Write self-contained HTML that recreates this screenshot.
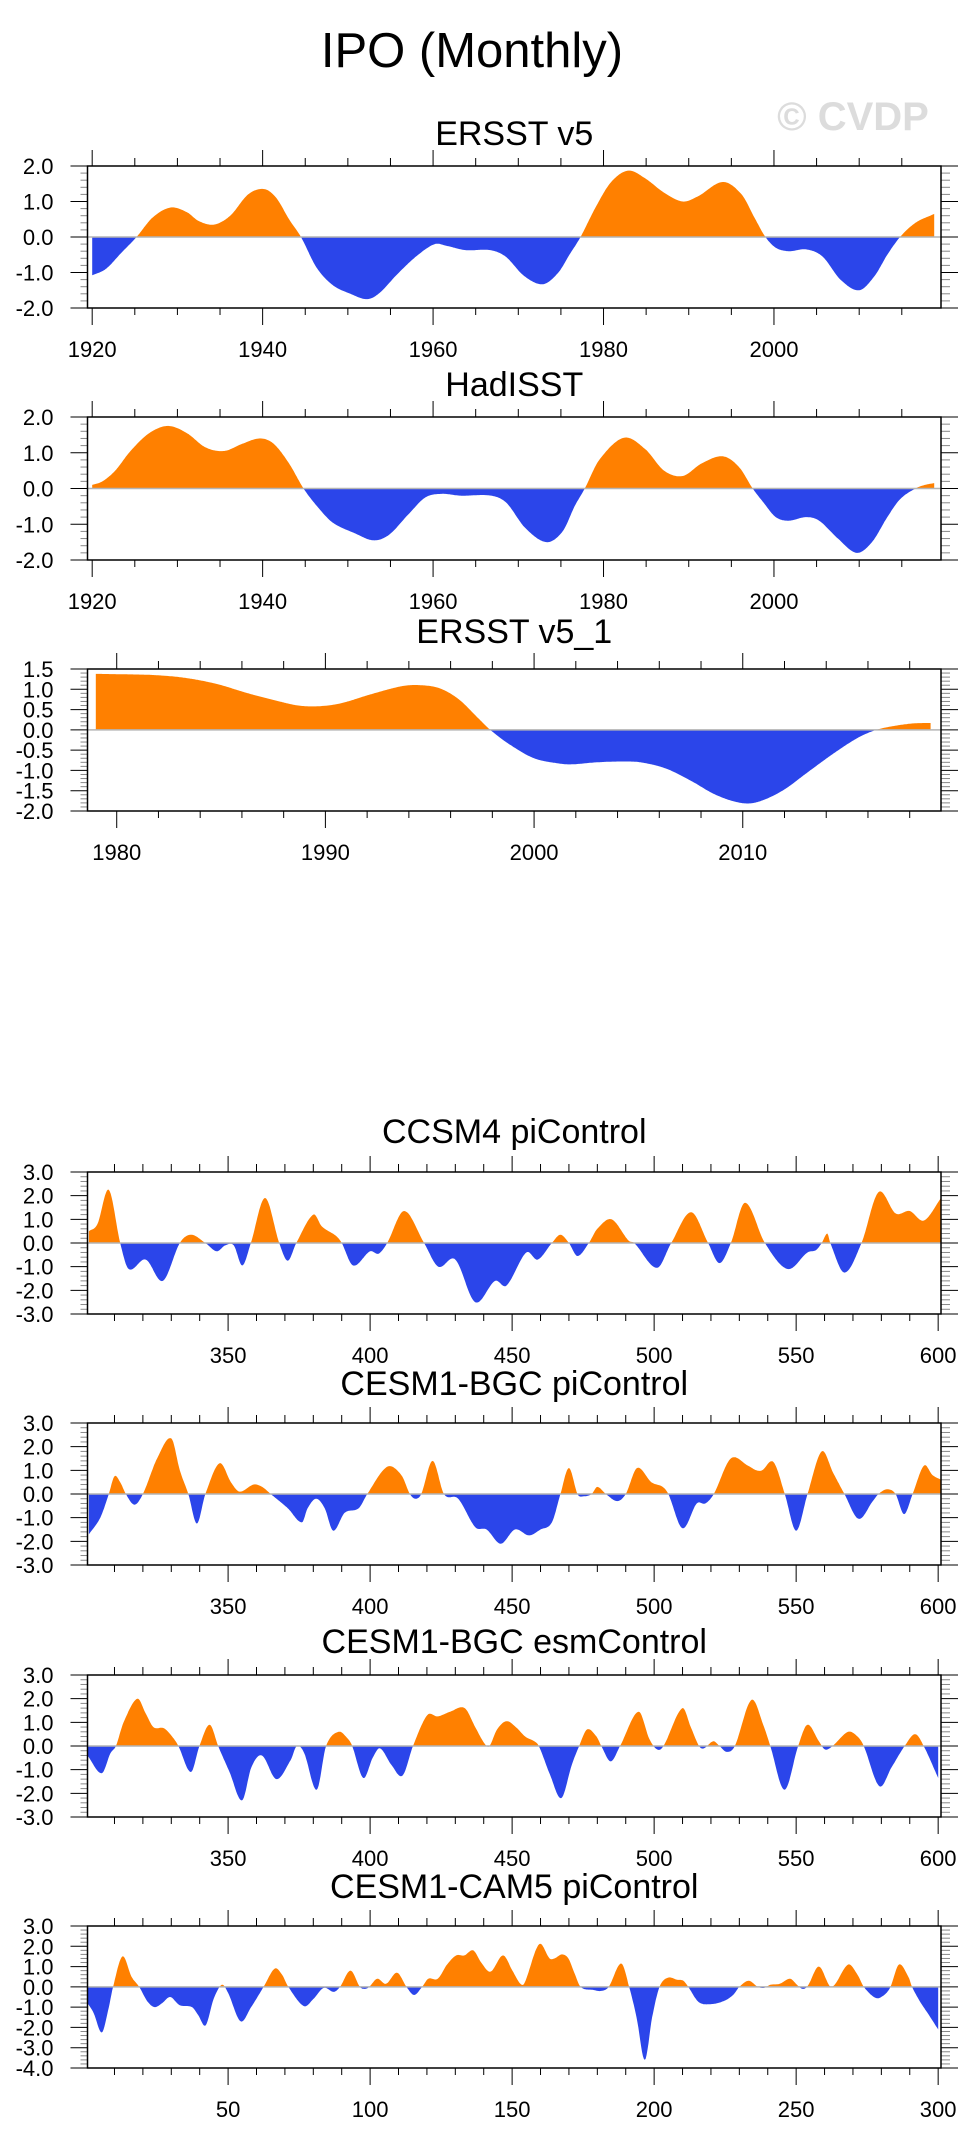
<!DOCTYPE html>
<html><head><meta charset="utf-8">
<style>
html,body{margin:0;padding:0;background:#fff;}
svg{display:block;font-family:"Liberation Sans",Arial,sans-serif;}
</style></head>
<body>
<svg id="chart" width="974" height="2150" viewBox="0 0 974 2150" xmlns="http://www.w3.org/2000/svg">
<text x="472" y="67" font-size="49" text-anchor="middle" fill="#000">IPO (Monthly)</text>
<text x="853" y="130" font-size="40" font-weight="bold" text-anchor="middle" fill="#dcdcdc">© CVDP</text>
</svg>
<script>
// ---- data ----
const ersstYears=[1920,1921.6,1923.4,1925.2,1927.1,1929.2,1931.1,1932.5,1934.3,1936.2,1938.3,1940.2,1941.6,1943.1,1944.5,1946.3,1948.2,1950.3,1952.2,1953.6,1955.8,1958,1960.2,1961.6,1963.8,1966.7,1968.5,1970.7,1972.9,1974.7,1976,1977.3,1979.1,1980.9,1982.9,1984.9,1987.1,1989.3,1991.1,1994,1996.2,1997.7,1999,2000.2,2001.7,2003.8,2005.7,2007.8,2010,2011.8,2013.3,2014.8,2016.6,2018.8];
const ersstValues=[-1.08,-0.9,-0.45,0,0.55,0.83,0.7,0.45,0.35,0.6,1.2,1.35,1.1,0.5,0,-0.85,-1.35,-1.6,-1.75,-1.6,-1.05,-0.55,-0.2,-0.25,-0.37,-0.37,-0.55,-1.1,-1.33,-1.0,-0.5,0,0.85,1.55,1.87,1.65,1.25,1.0,1.15,1.55,1.2,0.55,0,-0.3,-0.4,-0.35,-0.55,-1.2,-1.5,-1.1,-0.5,0,0.4,0.65];
const hadYears=[1920,1921.2,1922.7,1924.5,1926.7,1928.9,1931.1,1933.3,1935.5,1937.6,1939.7,1941.3,1943.1,1944.8,1946.4,1948.2,1950.8,1953,1954.8,1957,1959.1,1961,1963.2,1966.8,1968.6,1970.8,1973.3,1975.2,1976.6,1977.8,1979.5,1982.4,1984.9,1987.1,1989.3,1991.5,1994,1995.9,1997.5,1998.8,2000.2,2001.7,2003.8,2005.3,2007.5,2009.7,2011.5,2013.3,2014.8,2016.6,2017.7,2018.8];
const hadValues=[0.1,0.2,0.5,1.05,1.55,1.75,1.55,1.15,1.05,1.25,1.4,1.25,0.7,0,-0.5,-0.95,-1.25,-1.45,-1.3,-0.75,-0.25,-0.15,-0.2,-0.2,-0.4,-1.1,-1.5,-1.2,-0.5,0,0.8,1.42,1.1,0.5,0.35,0.7,0.9,0.6,0,-0.4,-0.8,-0.9,-0.8,-0.9,-1.4,-1.8,-1.5,-0.8,-0.3,0,0.1,0.15];
const ersst1Years=[1979.0,1980.3,1981.8,1983.3,1984.8,1986.3,1987.8,1988.7,1989.6,1990.7,1992.2,1993.7,1994.6,1995.5,1996.4,1997.3,1997.9,1998.8,2000,2001.2,2001.8,2003,2004.2,2005.1,2006.3,2007.5,2008.7,2009.9,2010.7,2011.9,2013.1,2014.3,2015.5,2016.4,2017.3,2018.2,2019.0];
const ersst1Values=[1.38,1.37,1.35,1.28,1.13,0.9,0.7,0.6,0.58,0.65,0.88,1.08,1.1,1.02,0.75,0.3,0,-0.35,-0.7,-0.83,-0.85,-0.8,-0.78,-0.8,-0.95,-1.25,-1.6,-1.8,-1.78,-1.5,-1.05,-0.6,-0.2,0,0.1,0.16,0.17];
const ccsmYears=[301,304,308,312,315,321,327,333,337,342,346,349,352,355,358,363,368,371,374,380,383,388,390,394,400,403,406,412,419,424,430,437,444,448,455,459,464,467,470,473,477,480,485,491,493,501,506,513,519,523,527,532,539,547,554,557,559,561,562,567,573,579,585,590,595,601];
const ccsmValues=[0.5,0.8,2.25,0,-1.1,-0.7,-1.6,0,0.35,0,-0.35,-0.1,-0.1,-0.95,0,1.9,0,-0.75,0,1.2,0.7,0.3,0,-0.95,-0.35,-0.45,0,1.35,0,-1.0,-0.7,-2.5,-1.6,-1.8,-0.4,-0.7,0,0.35,0,-0.55,0,0.6,1.0,0.1,0,-1.05,0,1.3,0,-0.85,0,1.7,0,-1.1,-0.4,-0.3,0,0.4,0,-1.25,0,2.15,1.25,1.35,0.95,1.9];
const bgcPiYears=[301,305,308,310,312,314,317,320,325,330,333,336,339,342,347,351,354,359,362,365,371,376,378,381,384,387,391,396,399,406,411,414,416,418,422,426,431,437,441,446,451,456,460,464,467,470,473,475,478,480,483,487,490,494,499,503,505,510,515,518,521,527,533,536,538,542,546,550,554,559,563,567,572,577,579,582,585,588,591,595,598,601];
const bgcPiValues=[-1.7,-1.0,0,0.75,0.5,0,-0.45,0,1.5,2.35,1.0,0,-1.25,0,1.3,0.5,0.1,0.4,0.3,0,-0.6,-1.2,-0.6,-0.2,-0.6,-1.55,-0.8,-0.6,0,1.15,0.8,0,-0.2,0,1.4,0,-0.2,-1.4,-1.5,-2.1,-1.5,-1.75,-1.5,-1.2,0,1.1,0,-0.1,0,0.3,0,-0.3,0,1.1,0.5,0.3,0,-1.45,-0.4,-0.4,0,1.5,1.2,1.0,1.0,1.35,0,-1.55,0,1.8,0.9,0,-1.05,-0.3,0,0.2,0,-0.85,0,1.2,0.8,0.6];
const bgcEsmYears=[300.5,305.5,308.6,310.5,313.2,318,320.9,323.7,327.4,330.3,332.5,336.9,339.9,343.5,346.5,350.5,354.9,358.2,361.9,367,372,374.2,376.8,381.2,384.5,388.9,392.2,393.7,397.6,400.9,403.5,407.5,411.4,415.1,420.1,423.8,428.2,433.3,437,440.3,442,444.7,448,451.3,454.6,457.8,459.4,463.3,467.3,471,473.6,476.4,479.7,481.4,484.7,488,494.5,498.3,501.1,503.3,509.9,512.9,515.8,517.5,520.8,523,525.6,528.4,534.3,538.7,540.9,545.9,550.7,554,558,560.2,562.8,568.3,571.6,573.8,579.3,583.6,588.2,591.9,594.9,600];
const bgcEsmValues=[-0.4,-1.15,-0.3,0,1.0,2.0,1.4,0.8,0.75,0.4,0,-1.1,0,0.9,0,-1.1,-2.3,-0.9,-0.4,-1.4,-0.6,0,-0.3,-1.85,0,0.6,0.3,0,-1.35,-0.5,-0.1,-0.8,-1.25,0,1.3,1.25,1.45,1.6,0.8,0.1,0,0.7,1.05,0.8,0.4,0.2,0,-1.2,-2.2,-0.8,0,0.7,0.4,0,-0.65,0,1.45,0.3,-0.15,0,1.6,0.8,0,-0.1,0.2,0,-0.25,0,1.95,0.8,0,-1.85,0,0.9,0.2,-0.15,0,0.6,0.4,0,-1.7,-0.9,0,0.5,0,-1.35];
const cam5Years=[0.5,2.7,5.5,7.7,9.5,12.8,16,18.7,21.5,24.1,26.8,29.6,32.9,37.3,39.5,42.1,44.9,47.8,50,54.4,58.1,62.5,66.4,69,71.2,76.7,80,83.7,87.2,89.4,93.1,96.4,98.2,99.7,102.5,105.6,109.5,112.8,115.5,118.3,120.5,123.8,127.1,130.3,133.2,136.3,139.1,142.4,146.8,150.1,152.9,154.4,159.5,163.2,164.9,167.6,169.8,171.9,174.1,178.5,181.4,184,188.4,191.2,193.8,196.7,199.3,201.9,204.8,208.1,210.3,212,215.7,220.1,224.5,227.8,230,233.3,236.5,238.7,240.9,244.2,247.9,250.3,252.3,254.1,258,262.4,268.3,271.6,273.8,278.1,281,283.2,286.2,289.5,290.8,293.5,296.8,300];
const cam5Values=[-0.8,-1.3,-2.25,-1.2,0,1.5,0.5,0,-0.7,-1.0,-0.8,-0.5,-0.9,-1.0,-1.4,-1.9,-0.6,0.1,-0.3,-1.7,-1.0,0,0.9,0.6,0,-0.95,-0.6,-0.05,-0.25,0,0.8,0,-0.1,0,0.4,0.15,0.7,0,-0.4,0,0.4,0.4,1.1,1.55,1.55,1.8,1.2,0.75,1.55,0.8,0.15,0.2,2.1,1.4,1.4,1.6,1.4,0.7,0,-0.15,-0.2,0,1.15,0,-1.5,-3.6,-1.5,0,0.45,0.35,0.3,0,-0.75,-0.85,-0.7,-0.4,0,0.3,0,-0.05,0.1,0.15,0.4,0.1,-0.1,0.05,1.0,0,1.1,0.6,0,-0.55,-0.4,0,1.1,0.5,0,-0.7,-1.4,-2.1];

const NS='http://www.w3.org/2000/svg';
const svg=document.getElementById('chart');
const L=87.5,R=941,POS='#ff8000',NEG='#2b45ea';
function mk(tag,attrs,parent){const e=document.createElementNS(NS,tag);for(const k in attrs)e.setAttribute(k,attrs[k]);(parent||svg).appendChild(e);return e;}

function drawPanel(p){
  const g=mk('g',{});
  
  
  const sx=v=>L+(v-p.xmin)/(p.xmax-p.xmin)*(R-L);
  const sy=v=>p.bottom-(v-p.ymin)/(p.ymax-p.ymin)*(p.bottom-p.top);
  const t=mk('text',{x:(L+R)/2,y:p.titleY,'font-size':34,'text-anchor':'middle'},g);
  t.textContent=p.title;
  
  
  const xs=p.xs,ys=p.ys,n=xs.length,m=[];
  for(let i=0;i<n;i++){
    if(i===0)m.push((ys[1]-ys[0])/(xs[1]-xs[0]));
    else if(i===n-1)m.push((ys[n-1]-ys[n-2])/(xs[n-1]-xs[n-2]));
    else m.push((ys[i+1]-ys[i-1])/(xs[i+1]-xs[i-1]));
  }
  const pts=[];
  for(let i=0;i<n-1;i++){
    const x0=xs[i],x1=xs[i+1],h=x1-x0,steps=Math.max(2,Math.ceil((sx(x1)-sx(x0))));
    for(let s=0;s<steps;s++){
      const u=s/steps,u2=u*u,u3=u2*u;
      const v=(2*u3-3*u2+1)*ys[i]+(u3-2*u2+u)*h*m[i]+(-2*u3+3*u2)*ys[i+1]+(u3-u2)*h*m[i+1];
      pts.push([x0+u*h,v]);
    }
  }
  pts.push([xs[n-1],ys[n-1]]);
  const y0=sy(0);
  let dp='M'+sx(pts[0][0]).toFixed(1)+','+y0,dn=dp;
  pts.forEach(q=>{const X=sx(q[0]).toFixed(1);dp+='L'+X+','+sy(Math.max(q[1],0)).toFixed(1);dn+='L'+X+','+sy(Math.min(q[1],0)).toFixed(1);});
  dp+='L'+sx(pts[pts.length-1][0]).toFixed(1)+','+y0+'Z';dn+='L'+sx(pts[pts.length-1][0]).toFixed(1)+','+y0+'Z';
  const ap=mk('path',{d:dp,fill:POS},g);
  
  
  const an=mk('path',{d:dn,fill:NEG},g);
  
  
  const zl=mk('line',{x1:L,x2:R,y1:y0,y2:y0,stroke:'#b4b4b4','stroke-width':1.5},g);
  
  
  const tk=mk('g',{stroke:'#000','stroke-width':1},g);
  
  
  for(let v=p.xMinorStart;v<=p.xmax+1e-6;v+=p.xMinor){
    const X=sx(v),major=Math.abs(((v-p.xMajorStart)/p.xMajor)-Math.round((v-p.xMajorStart)/p.xMajor))<1e-6;
    mk('line',{x1:X,x2:X,y1:p.top,y2:p.top-(major?16:8)},tk);
    mk('line',{x1:X,x2:X,y1:p.bottom,y2:p.bottom+(major?17:7)},tk);
    if(major&&v>=p.xMajorStart-1e-6){
      const lt=mk('text',{x:X,y:p.bottom+49,'font-size':22,'text-anchor':'middle',stroke:'none',fill:'#000'},g);
      lt.textContent=Math.round(v);
      
      
    }
  }
  const ny=Math.round((p.ymax-p.ymin)/p.yMinor);
  for(let k=0;k<=ny;k++){
    const v=p.ymin+k*p.yMinor,Y=sy(v),r=(v-p.ymin)/p.yMajor,major=Math.abs(r-Math.round(r))<1e-6;
    mk('line',{x1:L,x2:L-(major?17:7),y1:Y,y2:Y,stroke:major?'#000':'#888'},tk);
    mk('line',{x1:R,x2:R+(major?17:9),y1:Y,y2:Y,stroke:major?'#000':'#888'},tk);
    if(major){
      const lt=mk('text',{x:L-34,y:Y+8,'font-size':22,'text-anchor':'end',stroke:'none',fill:'#000'},g);
      lt.textContent=(Math.abs(v)<1e-9?0:v).toFixed(1);
      
      
    }
  }
  const b=mk('rect',{x:L,y:p.top,width:R-L,height:p.bottom-p.top,fill:'none',stroke:'#000','stroke-width':1.5},g);
  
  
}

const lowerBase={xmin:300.5,xmax:601,ymin:-3,ymax:3,yMajor:1,yMinor:0.2,xMajorStart:350,xMajor:50,xMinorStart:310,xMinor:10};
drawPanel({name:'ersst-v5',title:'ERSST v5',titleY:145,top:166,bottom:308,xmin:1919.45,xmax:2019.6,ymin:-2,ymax:2,yMajor:1,yMinor:0.2,xMajorStart:1920,xMajor:20,xMinorStart:1920,xMinor:5,xs:ersstYears,ys:ersstValues});
drawPanel({name:'hadisst',title:'HadISST',titleY:396,top:417,bottom:560,xmin:1919.45,xmax:2019.6,ymin:-2,ymax:2,yMajor:1,yMinor:0.2,xMajorStart:1920,xMajor:20,xMinorStart:1920,xMinor:5,xs:hadYears,ys:hadValues});
drawPanel({name:'ersst-v5-1',title:'ERSST v5_1',titleY:643,top:669,bottom:811,xmin:1978.6,xmax:2019.5,ymin:-2,ymax:1.5,yMajor:0.5,yMinor:0.1,xMajorStart:1980,xMajor:10,xMinorStart:1980,xMinor:2,xs:ersst1Years,ys:ersst1Values});
drawPanel(Object.assign({},lowerBase,{name:'ccsm4-picontrol',title:'CCSM4 piControl',titleY:1143,top:1172,bottom:1314,xs:ccsmYears,ys:ccsmValues}));
drawPanel(Object.assign({},lowerBase,{name:'cesm1-bgc-picontrol',title:'CESM1-BGC piControl',titleY:1395,top:1423,bottom:1565,xs:bgcPiYears,ys:bgcPiValues}));
drawPanel(Object.assign({},lowerBase,{name:'cesm1-bgc-esmcontrol',title:'CESM1-BGC esmControl',titleY:1653,top:1675,bottom:1817,xs:bgcEsmYears,ys:bgcEsmValues}));
drawPanel(Object.assign({},lowerBase,{name:'cesm1-cam5-picontrol',title:'CESM1-CAM5 piControl',titleY:1898,top:1926,bottom:2068,xmin:0.5,xmax:301,ymin:-4,xMajorStart:50,xMinorStart:10,xs:cam5Years,ys:cam5Values}));
</script>
</body></html>
